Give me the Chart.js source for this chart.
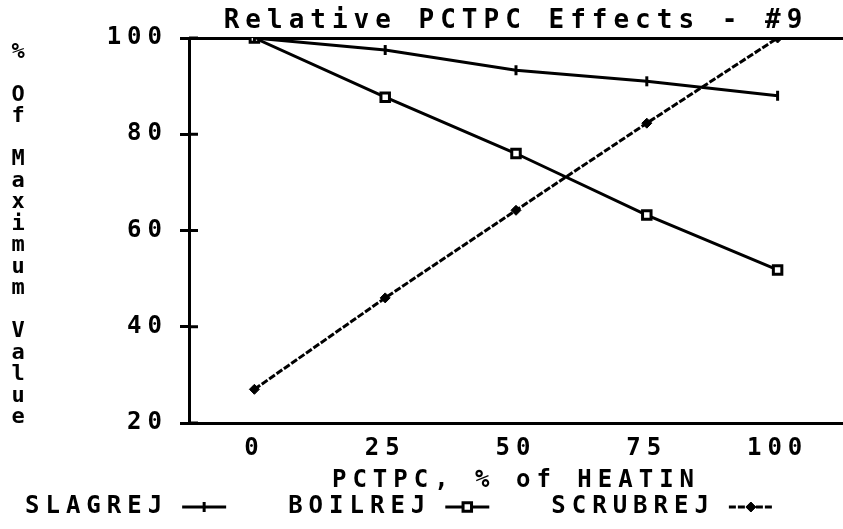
<!DOCTYPE html>
<html>
<head>
<meta charset="utf-8">
<title>Relative PCTPC Effects - #9</title>
<script src="https://cdn.jsdelivr.net/npm/chart.js@4.4.1/dist/chart.umd.min.js"></script>
<style>
  html, body { margin: 0; padding: 0; background: #fff; }
  canvas { display: block; }
</style>
</head>
<body>
<canvas id="pctpcChart" width="843" height="529"></canvas>
<script>
// values
const pctpcLevels = ['0', '25', '50', '75', '100'];
const slagrej = [100, 97.5, 93.3, 91, 88];
const boilrej = [100, 87.7, 76, 63.2, 51.8];
const scrubrej = [27, 46, 64.2, 82.3, 100];
const yTicks = [20, 40, 60, 80, 100];
const yTitleLines = ['%', '', 'O', 'f', '', 'M', 'a', 'x', 'i', 'm', 'u', 'm', '', 'V', 'a', 'l', 'u', 'e'];

const FONT = "'DejaVu Sans Mono', monospace";
const SPACING = '6px';
const font = (size) => ({ family: FONT, size: size, weight: 'bold', lineHeight: 1 });

// old plotter look: wide spaced text everywhere
const spacing = {
  id: 'spacing',
  beforeUpdate(chart) { chart.ctx.letterSpacing = SPACING; },
  beforeLayout(chart) { chart.ctx.letterSpacing = SPACING; },
  beforeDraw(chart) { chart.ctx.letterSpacing = SPACING; }
};

// inner tick marks, stacked y title and the text-first legend
const decor = {
  id: 'decor',
  afterDraw(chart) {
    const ctx = chart.ctx;
    const yScale = chart.scales.y;
    const left = chart.chartArea.left;
    ctx.save();
    ctx.strokeStyle = '#000';
    ctx.fillStyle = '#000';
    ctx.lineWidth = 3;
    yTicks.forEach(v => {
      const py = yScale.getPixelForValue(v);
      ctx.beginPath();
      ctx.moveTo(left, py);
      ctx.lineTo(left + 9, py);
      ctx.stroke();
    });

    ctx.font = 'bold 22px ' + FONT;
    ctx.letterSpacing = '0px';
    ctx.textAlign = 'center';
    ctx.textBaseline = 'middle';
    yTitleLines.forEach((ch, i) => ctx.fillText(ch, 18, 52 + i * 21.5));

    ctx.font = 'bold 24px ' + FONT;
    ctx.letterSpacing = SPACING;
    ctx.textAlign = 'left';
    const ly = 507;
    let x = 25;
    chart.data.datasets.forEach(ds => {
      ctx.fillStyle = '#000';
      ctx.fillText(ds.label, x, ly);
      x += ctx.measureText(ds.label).width + 14;
      ctx.lineWidth = ds.borderWidth;
      ctx.setLineDash(ds.borderDash || []);
      ctx.beginPath();
      ctx.moveTo(x, ly);
      ctx.lineTo(x + 44, ly);
      ctx.stroke();
      ctx.setLineDash([]);
      ctx.fillStyle = ds.pointBackgroundColor;
      ctx.strokeStyle = ds.pointBorderColor;
      ctx.lineWidth = ds.pointBorderWidth;
      Chart.helpers.drawPoint(ctx, {
        pointStyle: ds.pointStyle,
        rotation: ds.pointRotation || 0,
        radius: ds.pointRadius,
        borderWidth: ds.pointBorderWidth
      }, x + 22, ly);
      ctx.strokeStyle = '#000';
      x += 44 + 62;
    });
    ctx.restore();
  }
};

const ctx = document.getElementById('pctpcChart').getContext('2d');
const pctpcChart = new Chart(ctx, {
  type: 'line',
  data: {
    labels: pctpcLevels,
    datasets: [{
      label: 'SLAGREJ',
      data: slagrej,
      borderColor: '#000',
      borderWidth: 3,
      pointStyle: 'line',
      pointRotation: 90,
      pointRadius: 5,
      pointBorderWidth: 3,
      pointBackgroundColor: '#000',
      pointBorderColor: '#000',
      fill: false
    }, {
      label: 'BOILREJ',
      data: boilrej,
      borderColor: '#000',
      borderWidth: 3,
      pointStyle: 'rect',
      pointRadius: 6,
      pointBorderWidth: 3,
      pointBackgroundColor: '#fff',
      pointBorderColor: '#000',
      fill: false
    }, {
      label: 'SCRUBREJ',
      data: scrubrej,
      borderColor: '#000',
      borderWidth: 3,
      borderDash: [7, 2],
      pointStyle: 'rectRot',
      pointRadius: 5,
      pointBorderWidth: 1,
      pointBackgroundColor: '#000',
      pointBorderColor: '#000',
      fill: false
    }]
  },
  options: {
    responsive: false,
    animation: false,
    layout: { autoPadding: false, padding: { left: 0, right: 0, top: 0, bottom: 34 } },
    plugins: {
      legend: { display: false },
      tooltip: { enabled: false },
      title: {
        display: true,
        fullSize: false,
        text: 'Relative PCTPC Effects - #9',
        color: '#000',
        font: font(26),
        padding: { top: 8, bottom: 4 }
      }
    },
    scales: {
      x: {
        type: 'category',
        offset: true,
        grid: { display: false, drawTicks: false },
        border: { display: true, color: '#000', width: 3 },
        ticks: { color: '#000', font: font(24), padding: 14, maxRotation: 0 },
        title: {
          display: true,
          text: 'PCTPC, % of HEATIN',
          color: '#000',
          font: font(24),
          padding: { top: 4, bottom: 2 }
        },
        afterFit(scale) {
          scale.height = 72;
          scale.paddingLeft = 0;
          scale.paddingRight = 0;
        }
      },
      y: {
        min: 20,
        max: 100,
        afterBuildTicks(scale) { scale.ticks = yTicks.map(v => ({ value: v })); },
        grid: {
          color: (c) => (c.tick && c.tick.value === 100 ? '#000' : 'rgba(0,0,0,0)'),
          tickColor: '#000',
          lineWidth: 3,
          tickLength: 9
        },
        border: { display: true, color: '#000', width: 3 },
        ticks: { color: '#000', font: font(24), padding: 12 },
        afterFit(scale) { scale.width = 189; }
      }
    }
  },
  plugins: [spacing, decor]
});
</script>
</body>
</html>
